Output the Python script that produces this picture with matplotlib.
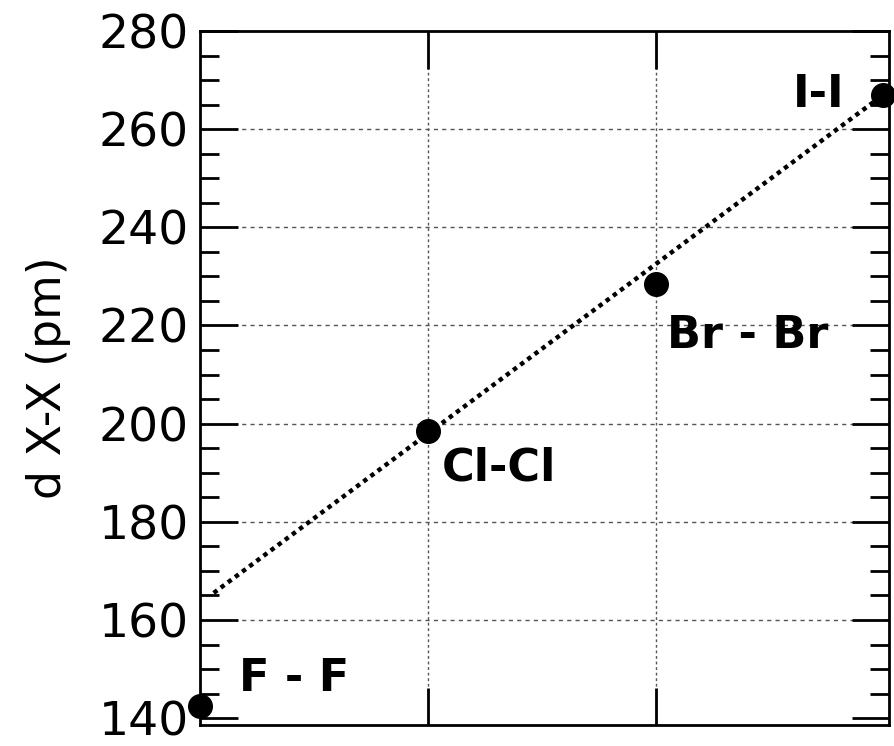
import numpy as np
import matplotlib.pyplot as plt
from matplotlib.ticker import MultipleLocator

# bond lengths of the halogens (pm)
labels = ["F - F", "Cl-Cl", "Br - Br", "I-I"]
pos = [0, 1, 2, 3]
d_xx = [142.5, 198.5, 228.5, 267.0]

# dotted trend line
fit_x = [0.06, 3.0]
fit_y = [165.5, 267.0]

fig = plt.figure(figsize=(8.94, 7.46), dpi=100)
ax = fig.add_axes([200 / 894, 1 - 725 / 746, 689 / 894, 694 / 746])

ax.plot(fit_x, fit_y, color="black", linestyle=(0, (1, 1.0)), linewidth=3.2, zorder=3)
ax.plot(pos, d_xx, "o", color="black", markersize=17, clip_on=False, zorder=4)

# labels next to each point
label_off = [(0.17, 5.5), (0.06, -7.5), (0.05, -10.5), (-0.17, 0)]
for x, y, s, (dx, dy) in zip(pos, d_xx, labels, label_off):
    ax.text(x + dx, y + dy, s, fontsize=32, fontweight="bold", family="DejaVu Sans",
            ha="left" if dx > 0 else "right", va="center")

ax.set_xlim(0, 3.025)
ax.set_ylim(138.6, 280)
ax.set_xticks([1, 2])
ax.set_yticks([140, 160, 180, 200, 220, 240, 260, 280])
ax.yaxis.set_minor_locator(MultipleLocator(5))
ax.set_xticklabels([])
ax.tick_params(axis="both", which="major", direction="in", length=27, width=2,
               top=True, right=True, labelsize=34)
ax.tick_params(axis="y", which="minor", direction="in", length=14, width=2,
               right=True)
ax.tick_params(axis="y", pad=8)
for sp in ax.spines.values():
    sp.set_linewidth(2)

# grid only on the inner lines
for yv in [160, 180, 200, 220, 240, 260]:
    ax.axhline(yv, color="#555555", linestyle=(0, (3, 3)), linewidth=1, zorder=1)
for xv in [1, 2]:
    ax.axvline(xv, color="#555555", linestyle=(0, (2, 2)), linewidth=1, zorder=1)
ax.set_ylabel("d X-X (pm)", fontsize=33, labelpad=20)

fig.savefig("out.png", dpi=100)
